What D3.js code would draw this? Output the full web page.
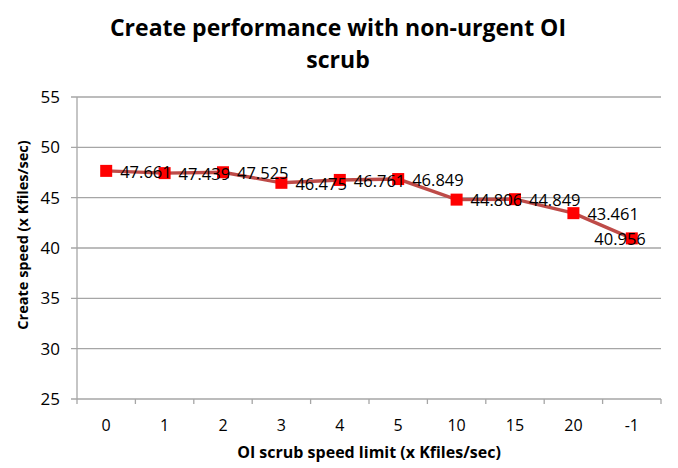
<!DOCTYPE html>
<html><head><meta charset="utf-8">
<script src="https://cdn.jsdelivr.net/npm/d3@7"></script>
<style>body{margin:0;background:#fff}svg{display:block}text{font-family:"Open Sans",sans-serif}</style>
</head><body><svg id="c" width="678" height="468"></svg>
<script>
const categories = ["0","1","2","3","4","5","10","15","20","-1"];
const values = [47.661,47.439,47.525,46.475,46.761,46.849,44.806,44.849,43.461,40.956];
const yTicks = [25,30,35,40,45,50,55];
const titleLines = ["Create performance with non-urgent OI","scrub"];
const xTitle = "OI scrub speed limit (x Kfiles/sec)";
const yTitle = "Create speed (x Kfiles/sec)";

const svg = d3.select("#c");
const L=77, R=661, T=97, B=399;
const x = d3.scaleBand().domain(categories).range([L,R]);
const y = d3.scaleLinear().domain([25,55]).range([B,T]);

// gridlines
svg.append("g").selectAll("line").data(yTicks).join("line")
  .attr("x1",L-6).attr("x2",R).attr("y1",d=>y(d)).attr("y2",d=>y(d))
  .attr("stroke","#a6a6a6").attr("stroke-width",1.3);
// y axis line
svg.append("line").attr("x1",L).attr("x2",L).attr("y1",T).attr("y2",B).attr("stroke","#a6a6a6").attr("stroke-width",1.3);
// x axis ticks
const xt = categories.map(c=>x(c)).concat([R]);
svg.append("g").selectAll("line").data(xt).join("line")
  .attr("x1",d=>d).attr("x2",d=>d).attr("y1",B).attr("y2",B+5)
  .attr("stroke","#a6a6a6").attr("stroke-width",1.3);

// y tick labels
svg.append("g").selectAll("text").data(yTicks).join("text")
  .attr("x",L-17).attr("y",d=>y(d)).attr("dy","0.35em").attr("text-anchor","end")
  .attr("font-size",17).attr("fill","#000").text(d=>d);
// x tick labels
svg.append("g").selectAll("text").data(categories).join("text")
  .attr("x",d=>x(d)+x.bandwidth()/2).attr("y",425).attr("dy","0.35em").attr("text-anchor","middle")
  .attr("font-size",16).attr("fill","#000").text(d=>d);

// line
const pts = categories.map((c,i)=>[x(c)+x.bandwidth()/2, y(values[i])]);
svg.append("path").attr("d",d3.line()(pts)).attr("fill","none").attr("stroke","#be4b48").attr("stroke-width",3.4);
// markers
svg.append("g").selectAll("rect").data(pts).join("rect")
  .attr("x",d=>d[0]-6).attr("y",d=>d[1]-6).attr("width",12).attr("height",12).attr("fill","#ff0000");
// data labels (kept inside the chart's right edge)
svg.append("g").selectAll("text").data(values).join("text")
  .attr("x",(d,i)=>Math.min(pts[i][0]+14, 672)).attr("y",(d,i)=>pts[i][1]+1)
  .attr("text-anchor",(d,i)=>pts[i][0]+14+52>672?"end":"start")
  .attr("dy","0.35em")
  .attr("font-size",16.5).attr("fill","#000").text(d=>d3.format(".3f")(d));

// title
svg.append("g").selectAll("text").data(titleLines).join("text")
  .attr("x",338).attr("y",(d,i)=>28+i*32).attr("dy","0.35em").attr("text-anchor","middle")
  .attr("font-size",23).attr("font-weight","bold").attr("fill","#000").text(d=>d);
// axis titles
svg.append("text").attr("x",369).attr("y",452).attr("dy","0.35em").attr("text-anchor","middle")
  .attr("font-size",16).attr("font-weight","bold").text(xTitle);
svg.append("text").attr("transform","translate(23,235) rotate(-90)").attr("dy","0.35em").attr("text-anchor","middle")
  .attr("font-size",14.5).attr("font-weight","bold").text(yTitle);
</script></body></html>
